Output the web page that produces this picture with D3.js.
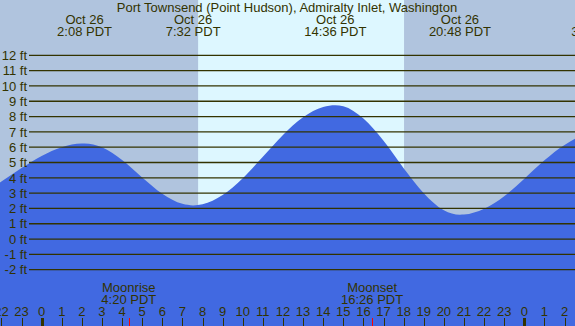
<!DOCTYPE html>
<html>
<head>
<meta charset="utf-8">
<script src="https://cdn.jsdelivr.net/npm/d3@7"></script>
<style>
  html, body { margin: 0; padding: 0; background: #fff; }
  svg { display: block; }
  text { font-family: "Liberation Sans", Arial, sans-serif; font-size: 13px; fill: #333300; }
</style>
</head>
<body>
<div id="chart"></div>
<script>
// Tide heights (ft), hours counted from Oct 26 00:00 PDT
const tideHours = [-3, -2, -1, 0, 1, 2, 2.133, 3, 4, 5, 6, 7, 7.533, 8, 9, 10, 11, 12, 13, 14, 14.6,
                   15, 16, 17, 18, 19, 20, 20.8, 21, 22, 23, 24, 25, 26, 27, 28];
const tideFeet  = [2.95, 3.76, 4.64, 5.43, 6.00, 6.24, 6.24, 5.99, 5.16, 4.02, 2.96, 2.30, 2.20, 2.27, 2.87, 3.97, 5.37, 6.80, 7.95, 8.62, 8.74,
                   8.67, 7.87, 6.42, 4.63, 3.00, 1.88, 1.59, 1.60, 1.98, 2.80, 3.94, 5.14, 6.14, 6.77, 6.88];

// High / low tide labels along the top
const extremeHours = [2.133, 7.533, 14.6, 20.8, 27.7];
const extremeDates = ["Oct 26", "Oct 26", "Oct 26", "Oct 26", "Oct 27"];
const extremeTimes = ["2:08 PDT", "7:32 PDT", "14:36 PDT", "20:48 PDT", "3:42 PDT"];

// Moon events along the bottom
const moonHours  = [4.333, 16.433];
const moonNames  = ["Moonrise", "Moonset"];
const moonTimes  = ["4:20 PDT", "16:26 PDT"];

const sunriseHour = 7.78;
const sunsetHour  = 18.02;

const feetTicks = [-2, -1, 0, 1, 2, 3, 4, 5, 6, 7, 8, 9, 10, 11, 12];
const hourTicks = d3.range(-2, 27);
const midnightHours = [0, 24];

const title = "Port Townsend (Point Hudson), Admiralty Inlet, Washington";

const width = 575, height = 326;
const colNight = "#b0c4de", colDay = "#ddf7ff", colWater = "#4169e1", colInk = "#333300";

const x = d3.scaleLinear().domain([-2.07, 26.52]).range([0, width]);
const y = d3.scaleLinear().domain([-2, 12]).range([269.7, 55.3]);

const svg = d3.select("#chart").append("svg")
              .attr("width", width)
              .attr("height", height);

// --- Night / day background ---
svg.append("rect").attr("x", 0).attr("y", 0).attr("width", width).attr("height", height).attr("fill", colNight);
svg.append("rect")
   .attr("x", x(sunriseHour)).attr("y", 0)
   .attr("width", x(sunsetHour) - x(sunriseHour)).attr("height", height)
   .attr("fill", colDay);

// --- Water ---
const tide = tideHours.map((h, i) => ({ h: h, ft: tideFeet[i] }));
const area = d3.area()
               .x(d => x(d.h))
               .y0(height)
               .y1(d => y(d.ft))
               .curve(d3.curveMonotoneX);
svg.append("path").datum(tide).attr("d", area).attr("fill", colWater);

// --- Height grid + labels ---
svg.selectAll("line.grid")
   .data(feetTicks)
   .enter()
   .append("line")
   .attr("class", "grid")
   .attr("x1", 29).attr("x2", width)
   .attr("y1", d => y(d)).attr("y2", d => y(d))
   .attr("stroke", colInk).attr("stroke-width", 1.3);

svg.selectAll("text.ft")
   .data(feetTicks)
   .enter()
   .append("text")
   .attr("class", "ft")
   .attr("x", 27)
   .attr("y", d => y(d) + 4.7)
   .attr("text-anchor", "end")
   .text(d => d + " ft");

// --- Title and tide times ---
svg.append("text").attr("x", 287).attr("y", 11.5).attr("text-anchor", "middle").text(title);

const tops = svg.selectAll("g.ext")
   .data(extremeHours)
   .enter()
   .append("g")
   .attr("class", "ext");
tops.append("text").attr("x", d => x(d)).attr("y", 24).attr("text-anchor", "middle").text((d, i) => extremeDates[i]);
tops.append("text").attr("x", d => x(d)).attr("y", 36).attr("text-anchor", "middle").text((d, i) => extremeTimes[i]);

// --- Hour axis at the bottom ---
svg.selectAll("text.hr")
   .data(hourTicks)
   .enter()
   .append("text")
   .attr("class", "hr")
   .attr("x", d => x(d))
   .attr("y", 316)
   .attr("text-anchor", "middle")
   .text(d => ((d % 24) + 24) % 24);

svg.selectAll("line.hr")
   .data(hourTicks)
   .enter()
   .append("line")
   .attr("class", "hr")
   .attr("x1", d => Math.round(x(d)) + 0.5).attr("x2", d => Math.round(x(d)) + 0.5)
   .attr("y1", 318).attr("y2", height)
   .attr("stroke", colInk)
   .attr("stroke-width", d => midnightHours.includes(d) ? 3 : 1);

// --- Moonrise / moonset ---
svg.selectAll("line.moon")
   .data(moonHours)
   .enter()
   .append("line")
   .attr("class", "moon")
   .attr("x1", d => Math.round(x(d)) + 0.5).attr("x2", d => Math.round(x(d)) + 0.5)
   .attr("y1", 318).attr("y2", height)
   .attr("stroke", "#ff0000").attr("stroke-width", 1);

const moons = svg.selectAll("g.moon")
   .data(moonHours)
   .enter()
   .append("g")
   .attr("class", "moon");
moons.append("text").attr("x", d => x(d)).attr("y", 292).attr("text-anchor", "middle").text((d, i) => moonNames[i]);
moons.append("text").attr("x", d => x(d)).attr("y", 303.5).attr("text-anchor", "middle").text((d, i) => moonTimes[i]);
</script>
</body>
</html>
